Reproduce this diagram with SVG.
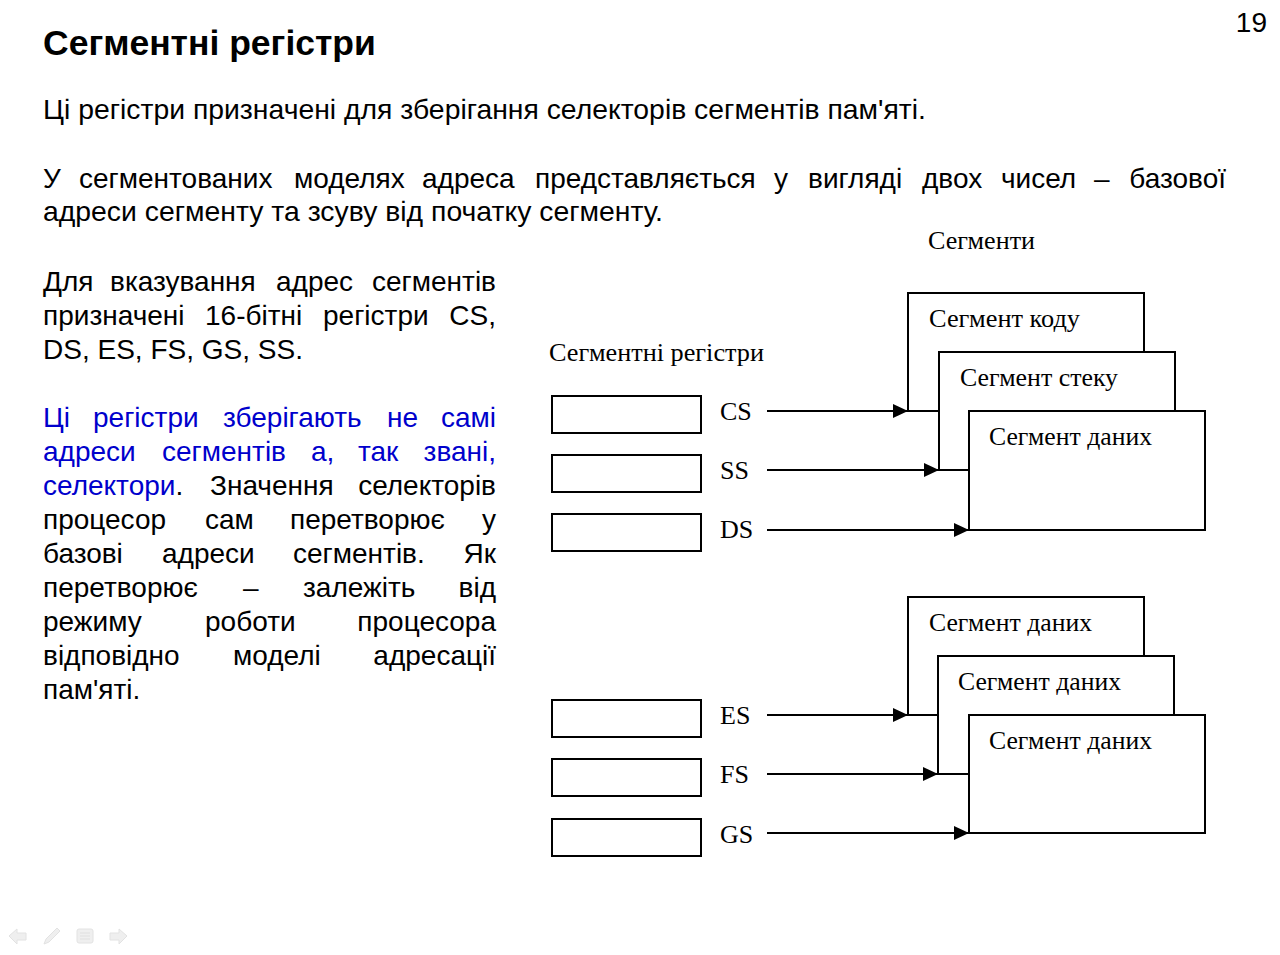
<svg xmlns="http://www.w3.org/2000/svg" width="1280" height="955" viewBox="0 0 1280 955">
  <style>
    .sans { font-family: "Liberation Sans", Arial, sans-serif; font-size: 28px; fill: #000; }
    .blue { fill: #0000cc; }
    .title { font-family: "Liberation Sans", Arial, sans-serif; font-size: 35.5px; font-weight: bold; fill: #000; }
    .serif { font-family: "Liberation Serif", "Times New Roman", serif; font-size: 26px; fill: #000; }
    .box { fill: #fff; stroke: #000; stroke-width: 2; }
    .wire { stroke: #000; stroke-width: 2; fill: none; marker-end: url(#arrow); }
    .nav { fill: #ececec; stroke: #dcdcdc; stroke-width: 1; }
  </style>
  <defs>
    <marker id="arrow" viewBox="0 0 15 14" refX="15" refY="7" markerWidth="15" markerHeight="14" markerUnits="userSpaceOnUse" orient="auto">
      <path d="M0,0 L15,7 L0,14 Z" fill="#000"/>
    </marker>
  </defs>
  <rect width="1280" height="955" fill="#fff"/>

  <!-- slide number and heading -->
  <text class="sans" x="1267" y="32" font-size="34" text-anchor="end">19</text>
  <text class="title" x="43" y="55">Сегментні регістри</text>

  <!-- intro text -->
  <text class="sans" x="43" y="119" textLength="883" lengthAdjust="spacingAndGlyphs">Ці регістри призначені для зберігання селекторів сегментів пам'яті.</text>
  <text class="sans" y="188"><tspan x="43">У</tspan><tspan x="79">сегментованих</tspan><tspan x="294">моделях</tspan><tspan x="422">адреса</tspan><tspan x="535">представляється</tspan><tspan x="774">у</tspan><tspan x="808">вигляді</tspan><tspan x="922">двох</tspan><tspan x="1001">чисел</tspan><tspan x="1094">–</tspan></text>
  <text class="sans" x="1226" y="188" text-anchor="end">базової</text>
  <text class="sans" x="43" y="221" textLength="620" lengthAdjust="spacingAndGlyphs">адреси сегменту та зсуву від початку сегменту.</text>

  <!-- left column, justified -->
  <g id="left-text">
    <text class="sans" y="291"><tspan x="43">Для</tspan><tspan x="110">вказування</tspan><tspan x="276">адрес</tspan></text>
    <text class="sans" x="496" y="291" text-anchor="end">сегментів</text>
    <text class="sans" y="325"><tspan x="43">призначені</tspan><tspan x="205">16-бітні</tspan><tspan x="323">регістри</tspan></text>
    <text class="sans" x="496" y="325" text-anchor="end">CS,</text>
    <text class="sans" x="43" y="359" textLength="260" lengthAdjust="spacingAndGlyphs">DS, ES, FS, GS, SS.</text>

    <text class="sans blue" y="427"><tspan x="43">Ці</tspan><tspan x="93">регістри</tspan><tspan x="223">зберігають</tspan><tspan x="387">не</tspan></text>
    <text class="sans blue" x="496" y="427" text-anchor="end">самі</text>
    <text class="sans blue" y="461"><tspan x="43">адреси</tspan><tspan x="162">сегментів</tspan><tspan x="311">а,</tspan><tspan x="358">так</tspan></text>
    <text class="sans blue" x="496" y="461" text-anchor="end">звані,</text>
    <text class="sans" y="495"><tspan x="43" class="blue">селектори</tspan><tspan>.</tspan><tspan x="210">Значення</tspan></text>
    <text class="sans" x="496" y="495" text-anchor="end">селекторів</text>
    <text class="sans" y="529"><tspan x="43">процесор</tspan><tspan x="205">сам</tspan><tspan x="290">перетворює</tspan></text>
    <text class="sans" x="496" y="529" text-anchor="end">у</text>
    <text class="sans" y="563"><tspan x="43">базові</tspan><tspan x="162">адреси</tspan><tspan x="293">сегментів.</tspan></text>
    <text class="sans" x="496" y="563" text-anchor="end">Як</text>
    <text class="sans" y="597"><tspan x="43">перетворює</tspan><tspan x="243">–</tspan><tspan x="303">залежіть</tspan></text>
    <text class="sans" x="496" y="597" text-anchor="end">від</text>
    <text class="sans" y="631"><tspan x="43">режиму</tspan><tspan x="205">роботи</tspan></text>
    <text class="sans" x="496" y="631" text-anchor="end">процесора</text>
    <text class="sans" y="665"><tspan x="43">відповідно</tspan><tspan x="233">моделі</tspan></text>
    <text class="sans" x="496" y="665" text-anchor="end">адресації</text>
    <text class="sans" x="43" y="699">пам'яті.</text>
  </g>

  <!-- diagram captions -->
  <text class="serif" x="928" y="249" textLength="107" lengthAdjust="spacingAndGlyphs">Сегменти</text>
  <text class="serif" x="549" y="361" textLength="215" lengthAdjust="spacingAndGlyphs">Сегментні регістри</text>

  <!-- upper segment stack -->
  <g id="seg-code"><rect class="box" x="908" y="293" width="236" height="118"/><text class="serif" x="929" y="327" textLength="151" lengthAdjust="spacingAndGlyphs">Сегмент коду</text></g>
  <g id="seg-stack"><rect class="box" x="939" y="352" width="236" height="118"/><text class="serif" x="960" y="386" textLength="158" lengthAdjust="spacingAndGlyphs">Сегмент стеку</text></g>
  <g id="seg-data1"><rect class="box" x="969" y="411" width="236" height="119"/><text class="serif" x="989" y="445" textLength="163" lengthAdjust="spacingAndGlyphs">Сегмент даних</text></g>

  <!-- lower segment stack -->
  <g id="seg-data2"><rect class="box" x="908" y="597" width="236" height="118"/><text class="serif" x="929" y="631" textLength="163" lengthAdjust="spacingAndGlyphs">Сегмент даних</text></g>
  <g id="seg-data3"><rect class="box" x="938" y="656" width="236" height="118"/><text class="serif" x="958" y="690" textLength="163" lengthAdjust="spacingAndGlyphs">Сегмент даних</text></g>
  <g id="seg-data4"><rect class="box" x="969" y="715" width="236" height="118"/><text class="serif" x="989" y="749" textLength="163" lengthAdjust="spacingAndGlyphs">Сегмент даних</text></g>

  <!-- segment registers -->
  <g id="reg-cs"><rect class="box" x="552" y="396" width="149" height="37"/><text class="serif" x="720" y="420">CS</text></g>
  <g id="reg-ss"><rect class="box" x="552" y="455" width="149" height="37"/><text class="serif" x="720" y="479">SS</text></g>
  <g id="reg-ds"><rect class="box" x="552" y="514" width="149" height="37"/><text class="serif" x="720" y="538">DS</text></g>
  <g id="reg-es"><rect class="box" x="552" y="700" width="149" height="37"/><text class="serif" x="720" y="724">ES</text></g>
  <g id="reg-fs"><rect class="box" x="552" y="759" width="149" height="37"/><text class="serif" x="720" y="783">FS</text></g>
  <g id="reg-gs"><rect class="box" x="552" y="819" width="149" height="37"/><text class="serif" x="720" y="843">GS</text></g>

  <!-- connectors: register to segment base -->
  <g id="connectors">
    <line class="wire" x1="767" y1="411" x2="908" y2="411"/>
    <line class="wire" x1="767" y1="470" x2="939" y2="470"/>
    <line class="wire" x1="767" y1="530" x2="969" y2="530"/>
    <line class="wire" x1="767" y1="715" x2="908" y2="715"/>
    <line class="wire" x1="767" y1="774" x2="938" y2="774"/>
    <line class="wire" x1="767" y1="833" x2="969" y2="833"/>
  </g>

  <!-- faint slide navigation controls -->
  <g id="nav" opacity="0.8">
    <path class="nav" d="M9,936 L17,929 L17,933 L26,933 L26,940 L17,940 L17,944 Z"/>
    <path class="nav" d="M44,944 L46,939 L57,928 L60,931 L49,942 Z"/>
    <rect class="nav" x="77" y="929" width="16" height="14" rx="2"/>
    <path d="M80,933 H90 M80,936 H90 M80,939 H90" stroke="#d8d8d8" stroke-width="1"/>
    <path class="nav" d="M127,936 L119,929 L119,933 L110,933 L110,940 L119,940 L119,944 Z"/>
  </g>
</svg>
